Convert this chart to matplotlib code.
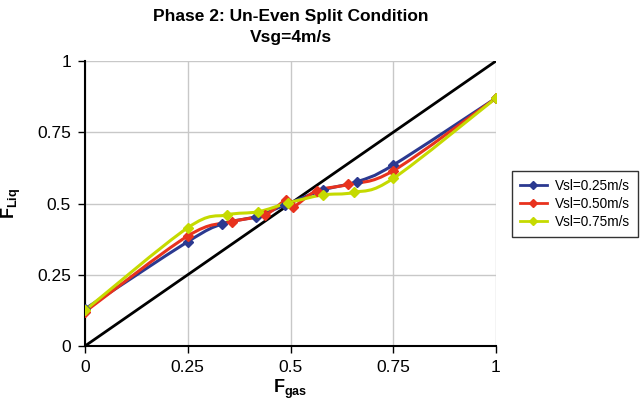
import numpy as np
import matplotlib
matplotlib.use('Agg')
import matplotlib.pyplot as plt
from matplotlib.path import Path
from matplotlib.patches import PathPatch

plt.rcParams['font.family'] = ['Liberation Sans', 'DejaVu Sans']
plt.rcParams['mathtext.fontset'] = 'custom'
plt.rcParams['mathtext.rm'] = 'Liberation Sans'
plt.rcParams['mathtext.bf'] = 'Liberation Sans:bold'

# data
x_025 = [0, 0.25, 0.333, 0.416, 0.487, 0.578, 0.663, 0.75, 1.0]
y_025 = [0.13, 0.366, 0.428, 0.454, 0.495, 0.547, 0.577, 0.635, 0.87]
x_050 = [0, 0.25, 0.357, 0.438, 0.489, 0.507, 0.564, 0.641, 0.75, 1.0]
y_050 = [0.12, 0.386, 0.436, 0.46, 0.512, 0.489, 0.545, 0.567, 0.615, 0.87]
x_075 = [0, 0.25, 0.345, 0.421, 0.494, 0.578, 0.655, 0.75, 1.0]
y_075 = [0.125, 0.415, 0.46, 0.471, 0.502, 0.530, 0.539, 0.588, 0.87]

series = [
    ('Vsl=0.25m/s', x_025, y_025, '#2B3990'),
    ('Vsl=0.50m/s', x_050, y_050, '#E8321E'),
    ('Vsl=0.75m/s', x_075, y_075, '#C5DA00'),
]
ticks = [0, 0.25, 0.5, 0.75, 1]
ticklabels = ['0', '0.25', '0.5', '0.75', '1']


def smooth_path(xs, ys, t=1/6.):
    # Excel-like smoothed line: Catmull-Rom -> cubic bezier
    p = np.column_stack([xs, ys])
    verts = [p[0]]
    codes = [Path.MOVETO]
    n = len(p)
    for i in range(n - 1):
        p0 = p[i - 1] if i > 0 else p[i]
        p1 = p[i]
        p2 = p[i + 1]
        p3 = p[i + 2] if i + 2 < n else p[i + 1]
        c1 = p1 + (p2 - p0) * t
        c2 = p2 - (p3 - p1) * t
        verts += [c1, c2, p2]
        codes += [Path.CURVE4] * 3
    return Path(verts, codes)


fig = plt.figure(figsize=(6.42, 4.04), dpi=100)
ax = fig.add_axes([85/642, 58/404, 411/642, 285/404])

ax.plot([0, 1], [0, 1], color='black', lw=2, zorder=2)

for label, xs, ys, c in series:
    ax.add_patch(PathPatch(smooth_path(xs, ys), facecolor='none', edgecolor=c, lw=2.2, zorder=3))
    ax.plot(xs, ys, ls='-', lw=0, marker='D', markersize=5.5, color=c, zorder=4)

ax.set_xlim(0, 1)
ax.set_ylim(0, 1)
ax.set_xticks(ticks)
ax.set_xticklabels(ticklabels)
ax.set_yticks(ticks)
ax.set_yticklabels(ticklabels)
ax.grid(True, color='#c8c8c8', lw=1)
ax.set_axisbelow(True)
for s in ['top', 'right']:
    ax.spines[s].set_visible(False)
for s in ['left', 'bottom']:
    ax.spines[s].set_linewidth(1.5)
ax.tick_params(labelsize=12.5, length=5, width=1, pad=5)

ax.set_xlabel(r'$\mathbf{F_{gas}}$', fontsize=13, labelpad=2)
ax.set_ylabel(r'$\mathbf{F_{Liq}}$', fontsize=13, labelpad=10)
ax.set_title('Phase 2: Un-Even Split Condition\nVsg=4m/s', fontsize=12.5, fontweight='bold',
             pad=14, linespacing=1.5)

leg_handles = []
for label, xs, ys, c in series:
    lh, = ax.plot([], [], ls='-', lw=2, marker='D', markersize=4.5, color=c, label=label)
    leg_handles.append(lh)
leg = fig.legend(handles=leg_handles, loc='center', bbox_to_anchor=(575/642, 1 - 204/404),
                 fontsize=9.8, frameon=True, fancybox=False, edgecolor='black',
                 handlelength=2.0, labelspacing=0.3, borderpad=0.6, handletextpad=0.6)
leg.get_frame().set_linewidth(1)

plt.savefig('out.png', dpi=100)
plt.close()
